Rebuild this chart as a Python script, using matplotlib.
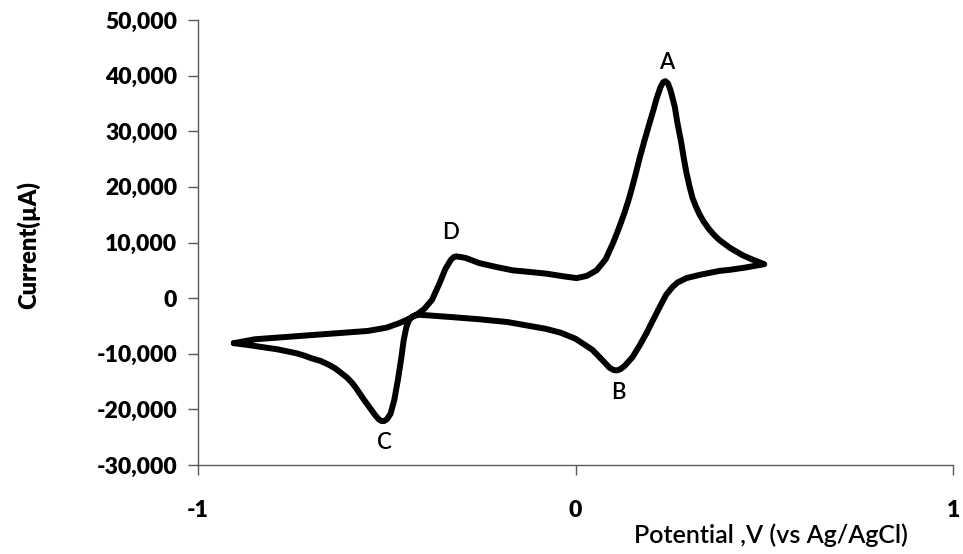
import matplotlib
matplotlib.use("Agg")
import matplotlib.pyplot as plt
from matplotlib.ticker import FuncFormatter

# Forward (anodic) sweep, from the left vertex to the right vertex
fwd_potential = [-0.905, -0.85, -0.75, -0.65, -0.55, -0.50, -0.467, -0.45, -0.432, -0.415, -0.40, -0.38,
                 -0.36, -0.345, -0.33, -0.322, -0.316, -0.305, -0.29, -0.255, -0.21, -0.167, -0.12, -0.077,
                 -0.03, 0.003, 0.03, 0.056, 0.08, 0.10, 0.11, 0.12, 0.13, 0.14, 0.15, 0.16, 0.17, 0.183,
                 0.195, 0.205, 0.215, 0.225, 0.232, 0.238, 0.245, 0.252, 0.263, 0.27, 0.28, 0.287, 0.294,
                 0.302, 0.31, 0.32, 0.329, 0.34, 0.355, 0.368,
                 0.382, 0.41, 0.443, 0.47, 0.50]
fwd_current = [-8100, -7400, -6900, -6400, -5900, -5300, -4500, -4000, -3400, -2700, -1900, -300,
               2700, 5200, 6900, 7400, 7500, 7400, 7200, 6300, 5600, 5000, 4700, 4400,
               3900, 3600, 4000, 5000, 7000, 10000, 11700, 13500, 15400, 17500, 19900, 22500, 25200, 28400,
               31200, 33500, 35900, 37900, 38800, 39000, 38600, 37300, 34400, 31500, 28000, 25100, 22500,
               20100, 18000, 16300, 15000, 13700, 12300, 11300,
               10400, 9000, 7700, 6900, 6100]

# Reverse (cathodic) sweep, from the right vertex back to the left vertex
rev_potential = [0.50, 0.45, 0.41, 0.382, 0.33, 0.294, 0.27, 0.257, 0.24, 0.223,
                 0.205, 0.188, 0.17, 0.151, 0.13, 0.118, 0.109, 0.10, 0.09, 0.072, 0.045, 0.0,
                 -0.04, -0.08, -0.122, -0.18, -0.255, -0.33, -0.39, -0.415, -0.43, -0.44, -0.448,
                 -0.455, -0.462, -0.47, -0.48, -0.49, -0.50, -0.507, -0.514, -0.521, -0.53, -0.546, -0.56,
                 -0.57, -0.58, -0.591, -0.605, -0.62, -0.635, -0.653, -0.675, -0.70, -0.72, -0.74,
                 -0.79, -0.83, -0.87, -0.905]
rev_current = [6100, 5500, 5100, 4900, 4200, 3600, 2800, 2000, 600, -1600,
               -4000, -6300, -8500, -10600, -12200, -12800, -13000, -12900, -12500, -11200, -9300, -7300,
               -6200, -5500, -5000, -4300, -3800, -3400, -3100, -3000, -3200, -3800, -5200,
               -7500, -11000, -14500, -18300, -20800, -21800, -22100, -22100, -21800, -21100, -19600, -18300,
               -17300, -16300, -15300, -14300, -13500, -12700, -12000, -11300, -10800, -10300, -9900,
               -9200, -8800, -8400, -8100]

x_ticks = [-1, 0, 1]
y_ticks = [-30000, -20000, -10000, 0, 10000, 20000, 30000, 40000, 50000]
peak_labels = ["A", "B", "C", "D"]

plt.rcParams['font.family'] = ['Lato', 'DejaVu Sans']

fig = plt.figure(figsize=(9.63, 5.54), dpi=100)
ax = fig.add_axes([198/963, 1-465/554, (953-198)/963, (465-20)/554])

potential = fwd_potential + rev_potential[1:]
current = fwd_current + rev_current[1:]
ax.plot(potential, current, color='black', lw=4.3,
        solid_joinstyle='round', solid_capstyle='round')

ax.set_xlim(-1, 1)
ax.set_ylim(-30000, 50000)
ax.set_xticks(x_ticks)
ax.set_yticks(y_ticks)
ax.yaxis.set_major_formatter(FuncFormatter(lambda v, p: f"{int(v):,}"))
ax.xaxis.set_major_formatter(FuncFormatter(lambda v, p: f"{int(v)}"))

for s in ['top', 'right']:
    ax.spines[s].set_visible(False)
for s in ['left', 'bottom']:
    ax.spines[s].set_color('#595959')
    ax.spines[s].set_linewidth(1.0)
ax.tick_params(axis='both', color='#595959', width=1.0, length=7, direction='out')
ax.tick_params(axis='y', pad=8, labelsize=16.5)
ax.tick_params(axis='x', pad=18, labelsize=16.5)
for lab in ax.get_xticklabels() + ax.get_yticklabels():
    lab.set_fontweight('heavy')

# peak labels placed relative to the peaks found in the data
fwd_idx = range(len(fwd_current))
rev_idx = range(len(rev_current))
iA = max((i for i in fwd_idx if fwd_potential[i] > 0), key=lambda i: fwd_current[i])
iD = max((i for i in fwd_idx if fwd_potential[i] < 0), key=lambda i: fwd_current[i])
iB = min((i for i in rev_idx if rev_potential[i] > 0), key=lambda i: rev_current[i])
iC = min((i for i in rev_idx if rev_potential[i] < 0), key=lambda i: rev_current[i])
ann = [(fwd_potential[iA], fwd_current[iA], 1, 6, 'bottom'),
       (rev_potential[iB], rev_current[iB], 1, -8, 'top'),
       (rev_potential[iC], rev_current[iC], 0, -8, 'top'),
       (fwd_potential[iD], fwd_current[iD], -4, 10, 'bottom')]
for lab, (xv, yv, dx, dy, va) in zip(peak_labels, ann):
    ax.annotate(lab, (xv, yv), xytext=(dx, dy), textcoords='offset points',
                ha='center', va=va, fontsize=16, fontweight='semibold')

fig.text(28/963, 1-245/554, "Current(µA)", rotation=90, ha='center', va='center',
         fontsize=17, fontweight='heavy')
fig.text(771/963, 1-535/554, "Potential ,V (vs Ag/AgCl)", ha='center', va='center',
         fontsize=18, fontweight='semibold')

fig.savefig("out.png", dpi=100)
